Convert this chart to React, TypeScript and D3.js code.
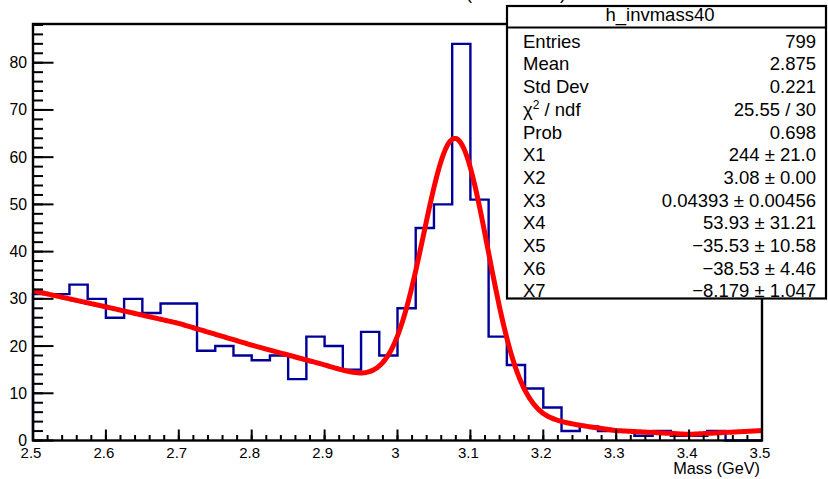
import React from 'react';
import * as d3 from 'd3';

// Histogram h_invmass40: 40 bins of invariant mass between 2.5 and 3.5 GeV
const massLow = 2.5;
const massHigh = 3.5;
const binCounts = [
  31, 31, 33, 30, 26, 30, 27, 29, 29, 19,
  20, 18, 17, 18, 13, 22, 20, 15, 23, 18,
  28, 45, 50, 84, 51, 22, 16, 11, 7, 2,
  3, 2, 2, 1, 2, 1, 1, 2, 0, 0,
];

const xTickValues = [2.5, 2.6, 2.7, 2.8, 2.9, 3.0, 3.1, 3.2, 3.3, 3.4, 3.5];
const xTickLabels = ['2.5', '2.6', '2.7', '2.8', '2.9', '3', '3.1', '3.2', '3.3', '3.4', '3.5'];
const yTickValues = [0, 10, 20, 30, 40, 50, 60, 70, 80];

// Fit: Gaussian peak (X1 events, mean X2, width X3) on a smooth background
const peakEvents = 244;
const peakMean = 3.08;
const peakSigma = 0.04393;
const bgMass = [2.5, 2.6, 2.7, 2.8, 2.9, 2.95, 3.0, 3.1, 3.2, 3.25, 3.3, 3.4, 3.5];
const bgLevel = [31.7, 28.3, 24.8, 20.2, 16.0, 13.6, 11.6, 7.8, 4.4, 3.2, 2.1, 1.3, 2.1];

// Statistics box
const statsTitle = 'h_invmass40';
const statNames = ['Entries', 'Mean', 'Std Dev', 'CHI2', 'Prob', 'X1', 'X2', 'X3', 'X4', 'X5', 'X6', 'X7'];
const statValues = [
  '799', '2.875', '0.221', '25.55 / 30', '0.698',
  '244 \u00b1 21.0', '3.08 \u00b1 0.00', '0.04393 \u00b1 0.00456',
  '53.93 \u00b1 31.21', '\u221235.53 \u00b1 10.58', '\u221238.53 \u00b1 4.46', '\u22128.179 \u00b1 1.047',
];

const W = 828;
const H = 479;
const frame = { left: 33, right: 762, top: 24, bottom: 440.5 };
const font = '"Liberation Sans", Arial, Helvetica, sans-serif';

export default function App() {
  const nBins = binCounts.length;
  const binWidth = (massHigh - massLow) / nBins;
  const yMax = d3.max(binCounts)! * 1.05;

  const x = d3.scaleLinear().domain([massLow, massHigh]).range([frame.left, frame.right]);
  const y = d3.scaleLinear().domain([0, yMax]).range([frame.bottom, frame.top]);

  // Step outline of the histogram
  const stepPts: [number, number][] = [[massLow, 0]];
  binCounts.forEach((c, i) => stepPts.push([massLow + i * binWidth, c]));
  stepPts.push([massHigh, binCounts[nBins - 1]]);
  stepPts.push([massHigh, 0]);
  const histPath = d3
    .line<[number, number]>()
    .x((d) => x(d[0]))
    .y((d) => y(d[1]))
    .curve(d3.curveStepAfter)(stepPts)!;

  // Fit curve
  const bg = d3.scaleLinear().domain(bgMass).range(bgLevel);
  const amp = (peakEvents * binWidth) / (Math.sqrt(2 * Math.PI) * peakSigma);
  const fitFn = (m: number) => amp * Math.exp(-0.5 * ((m - peakMean) / peakSigma) ** 2) + bg(m);
  const fitPts = d3.range(0, 401).map((i) => {
    const m = massLow + (i * (massHigh - massLow)) / 400;
    return [m, fitFn(m)] as [number, number];
  });
  const fitPath = d3
    .line<[number, number]>()
    .x((d) => x(d[0]))
    .y((d) => y(d[1]))
    .curve(d3.curveMonotoneX)(fitPts)!;

  const xMinor = d3.range(0, 51).map((i) => massLow + i * 0.02);
  const yMinor = d3.range(0, Math.floor(yMax / 2) + 1).map((i) => i * 2);

  const box = { left: 507, right: 826, top: 6, header: 27.5, bottom: 298.5 };
  const rowStep = 22.7;
  const firstRow = 47.7;

  return (
    <svg
      width={W}
      height={H}
      viewBox={`0 0 ${W} ${H}`}
      style={{ position: 'absolute', left: 0, top: 0, background: '#fff' }}
      fontFamily={font}
    >
      <rect x={0} y={0} width={W} height={H} fill="#fff" />

      {/* plot title, mostly above the visible area */}
      <g fontSize={18} fill="#000">
        <text x={462} y={-1.5} textAnchor="end">Invariant mass</text>
        <text x={466} y={-1.5}>(</text>
        <text x={473} y={-1.5} textLength={84}>all events</text>
        <text x={560} y={-1.5}>)</text>
      </g>

      <path d={histPath} fill="none" stroke="#000099" strokeWidth={2.4} />
      <path d={fitPath} fill="none" stroke="#ff0000" strokeWidth={5} strokeLinejoin="round" />

      {/* frame */}
      <rect
        x={frame.left}
        y={frame.top}
        width={frame.right - frame.left}
        height={frame.bottom - frame.top}
        fill="none"
        stroke="#000"
        strokeWidth={2.4}
      />

      {/* x axis ticks */}
      {xMinor.map((m, i) => (
        <line key={`xm${i}`} x1={x(m)} x2={x(m)} y1={frame.bottom} y2={frame.bottom - 5.5} stroke="#000" strokeWidth={2} />
      ))}
      {xTickValues.map((m, i) => (
        <g key={`xt${i}`}>
          <line x1={x(m)} x2={x(m)} y1={frame.bottom} y2={frame.bottom - 11} stroke="#000" strokeWidth={2} />
          <text x={x(m) - 2} y={457.5} fontSize={15} textAnchor="middle" fill="#000">
            {xTickLabels[i]}
          </text>
        </g>
      ))}
      <text x={760} y={474} fontSize={16.3} textAnchor="end" fill="#000">Mass (GeV)</text>

      {/* y axis ticks */}
      {yMinor.map((v, i) => (
        <line key={`ym${i}`} x1={frame.left} x2={frame.left + 10} y1={y(v)} y2={y(v)} stroke="#000" strokeWidth={2} />
      ))}
      {yTickValues.map((v, i) => (
        <g key={`yt${i}`}>
          <line x1={frame.left} x2={frame.left + 20.5} y1={y(v)} y2={y(v)} stroke="#000" strokeWidth={2} />
          <text x={27} y={y(v) + 5.5} fontSize={15.8} textAnchor="end" fill="#000">
            {v}
          </text>
        </g>
      ))}

      {/* statistics box */}
      <rect
        x={box.left}
        y={box.top}
        width={box.right - box.left}
        height={box.bottom - box.top}
        fill="#fff"
        stroke="#000"
        strokeWidth={2.2}
      />
      <line x1={box.left} x2={box.right} y1={box.header} y2={box.header} stroke="#000" strokeWidth={2.2} />
      <text x={660} y={21} fontSize={18.5} textAnchor="middle" fill="#000">{statsTitle}</text>
      {statNames.map((name, i) => {
        const by = firstRow + i * rowStep;
        return (
          <g key={`st${i}`} fontSize={18.5} fill="#000">
            {name === 'CHI2' ? (
              <text x={523} y={by}>
                {'\u03c7'}
                <tspan fontSize={12} dy={-7}>2</tspan>
                <tspan dy={7}>{' / ndf'}</tspan>
              </text>
            ) : (
              <text x={523} y={by}>{name}</text>
            )}
            <text x={816} y={by} textAnchor="end">{statValues[i]}</text>
          </g>
        );
      })}
    </svg>
  );
}
